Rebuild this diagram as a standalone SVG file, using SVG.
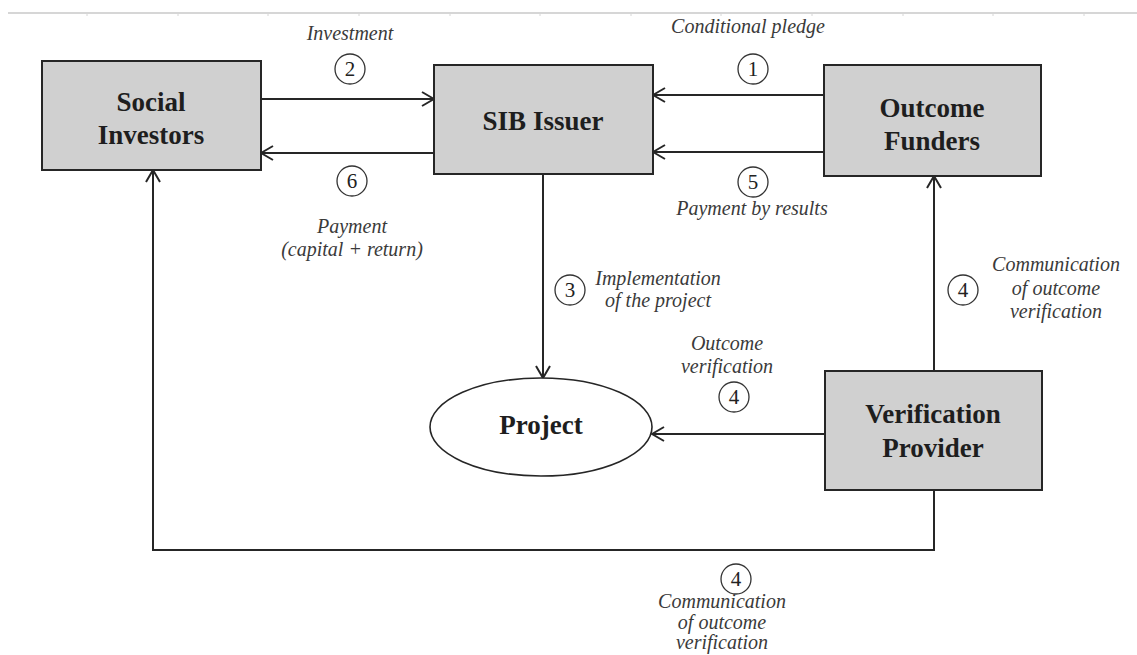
<svg xmlns="http://www.w3.org/2000/svg" width="1137" height="655" viewBox="0 0 1137 655">
  <style>
    .box { fill: #d0d0d0; stroke: #262626; stroke-width: 2; }
    .ell { fill: #ffffff; stroke: #262626; stroke-width: 1.6; }
    .title { font-family: "Liberation Serif", "Times New Roman", serif; font-weight: bold; font-size: 27px; fill: #1e1e1e; text-anchor: middle; }
    .lbl { font-family: "Liberation Serif", "Times New Roman", serif; font-style: italic; font-size: 20px; fill: #3a3a3a; text-anchor: middle; }
    .num { font-family: "Liberation Serif", "Times New Roman", serif; font-size: 21px; fill: #222; text-anchor: middle; }
    .badge { fill: #ffffff; stroke: #333; stroke-width: 1.3; }
    .wire { fill: none; stroke: #262626; stroke-width: 2; }
  </style>
  <defs>
    <marker id="arrow" viewBox="0 0 14 16" refX="13" refY="8" markerWidth="14" markerHeight="16" markerUnits="userSpaceOnUse" orient="auto">
      <path d="M1,1 L13,8 L1,15" fill="none" stroke="#262626" stroke-width="2"/>
    </marker>
  </defs>

  <!-- faint ruler line along the top edge -->
  <g id="ruler" stroke="#d6d6d6" stroke-width="2">
    <line x1="8" y1="13" x2="1137" y2="13"/>
    <path d="M87,13v3 M178,13v3 M268,13v3 M359,13v3 M450,13v3 M540,13v3 M631,13v3 M721,13v3 M812,13v3 M903,13v3 M993,13v3 M1084,13v3" stroke-width="1"/>
  </g>

  <!-- connectors -->
  <g id="connectors">
    <line class="wire" x1="261" y1="99" x2="434" y2="99" marker-end="url(#arrow)"/>
    <line class="wire" x1="434" y1="153" x2="261" y2="153" marker-end="url(#arrow)"/>
    <line class="wire" x1="824" y1="95" x2="653" y2="95" marker-end="url(#arrow)"/>
    <line class="wire" x1="824" y1="152" x2="653" y2="152" marker-end="url(#arrow)"/>
    <line class="wire" x1="543" y1="174" x2="543" y2="378" marker-end="url(#arrow)"/>
    <line class="wire" x1="825" y1="434" x2="652" y2="434" marker-end="url(#arrow)"/>
    <line class="wire" x1="934" y1="371" x2="934" y2="176" marker-end="url(#arrow)"/>
    <polyline class="wire" points="934,490 934,550 153,550 153,170" marker-end="url(#arrow)"/>
  </g>

  <!-- step badges and flow labels -->
  <g id="flow-labels">
    <text class="lbl" x="350" y="40">Investment</text>
    <circle class="badge" cx="350" cy="69" r="15"/>
    <text class="num" x="350" y="76">2</text>

    <text class="lbl" x="748" y="33">Conditional pledge</text>
    <circle class="badge" cx="753" cy="69" r="15"/>
    <text class="num" x="753" y="76">1</text>

    <circle class="badge" cx="352" cy="181" r="15"/>
    <text class="num" x="352" y="188">6</text>
    <text class="lbl" x="352" y="233">Payment</text>
    <text class="lbl" x="352" y="256">(capital + return)</text>

    <circle class="badge" cx="753" cy="182" r="15"/>
    <text class="num" x="753" y="189">5</text>
    <text class="lbl" x="752" y="215">Payment by results</text>

    <circle class="badge" cx="570" cy="290" r="15"/>
    <text class="num" x="570" y="297">3</text>
    <text class="lbl" x="658" y="285">Implementation</text>
    <text class="lbl" x="658" y="307">of the project</text>

    <text class="lbl" x="727" y="350">Outcome</text>
    <text class="lbl" x="727" y="373">verification</text>
    <circle class="badge" cx="734" cy="397" r="15"/>
    <text class="num" x="734" y="404">4</text>

    <circle class="badge" cx="963" cy="290" r="15"/>
    <text class="num" x="963" y="297">4</text>
    <text class="lbl" x="1056" y="271">Communication</text>
    <text class="lbl" x="1056" y="295">of outcome</text>
    <text class="lbl" x="1056" y="318">verification</text>

    <circle class="badge" cx="736" cy="579" r="15"/>
    <text class="num" x="736" y="586">4</text>
    <text class="lbl" x="722" y="608">Communication</text>
    <text class="lbl" x="722" y="629">of outcome</text>
    <text class="lbl" x="722" y="649">verification</text>
  </g>

  <!-- nodes -->
  <g id="social-investors">
    <rect class="box" x="42" y="61" width="219" height="109"/>
    <text class="title" x="151" y="111">Social</text>
    <text class="title" x="151" y="144">Investors</text>
  </g>
  <g id="sib-issuer">
    <rect class="box" x="434" y="65" width="219" height="109"/>
    <text class="title" x="543" y="130">SIB Issuer</text>
  </g>
  <g id="outcome-funders">
    <rect class="box" x="824" y="65" width="217" height="111"/>
    <text class="title" x="932" y="117">Outcome</text>
    <text class="title" x="932" y="150">Funders</text>
  </g>
  <g id="project">
    <ellipse class="ell" cx="541" cy="427" rx="111" ry="49"/>
    <text class="title" x="541" y="434">Project</text>
  </g>
  <g id="verification-provider">
    <rect class="box" x="825" y="371" width="217" height="119"/>
    <text class="title" x="933" y="423">Verification</text>
    <text class="title" x="933" y="457">Provider</text>
  </g>
</svg>
